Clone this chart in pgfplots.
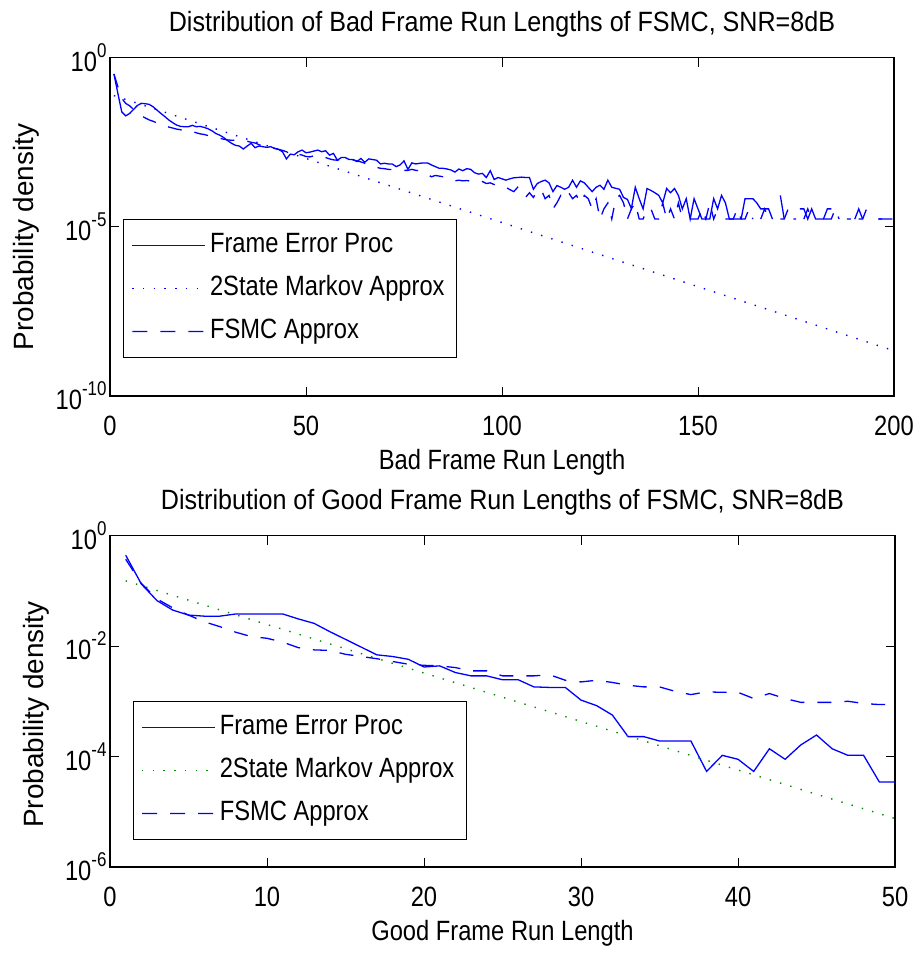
\documentclass[border=0pt]{standalone}
\usepackage{fontspec}
\setmainfont{Liberation Sans}[FakeStretch=0.85]
\newfontfamily\titlefont{Liberation Sans}[FakeStretch=0.9]
\newfontfamily\ylabfont{Liberation Sans}[FakeStretch=1.0]
\usepackage{pgfplots}
\usepackage{pgfplotstable}
\pgfplotsset{compat=1.18}
\definecolor{mblue}{rgb}{0,0,1}
\definecolor{mgreen}{rgb}{0,0.55,0}
\newcommand{\fsz}{\fontsize{28}{32}\selectfont}
\newcommand{\tp}[1]{10\raisebox{0.5em}{\fontsize{20}{20}\selectfont #1}}

\pgfplotstableread{
x fe fm
1 0.331 0.331
2 0.0891 0.141
3 0.0251 0.0631
4 0.0191 0.0447
5 0.0224 0.0380
6 0.0295 0.0295
7 0.0389 0.0234
8 0.0447 0.0191
9 0.0437 0.0166
10 0.0417 0.01445
11 0.0355 0.0132
12 0.0282 0.01175
13 0.0224 0.0107
14 0.0182 9.77e-3
15 0.01445 8.91e-3
16 0.0120 8.32e-3
17 0.0102 7.76e-3
18 9.33e-3 7.41e-3
19 9.12e-3 7.08e-3
20 9.12e-3 6.92e-3
21 1.0e-2 6.61e-3
22 9.12e-3 6.03e-3
23 9.33e-3 5.62e-3
24 8.71e-3 5.37e-3
25 7.94e-3 5.01e-3
26 6.92e-3 4.79e-3
27 5.75e-3 4.47e-3
28 5.13e-3 4.17e-3
29 4.37e-3 3.89e-3
30 3.55e-3 3.72e-3
31 2.95e-3 3.63e-3
32 2.57e-3 3.63e-3
33 2.45e-3 3.72e-3
34 2.00e-3 3.63e-3
35 2.45e-3 3.39e-3
36 2.95e-3 3.16e-3
37 2.19e-3 3.02e-3
38 2.45e-3 2.69e-3
39 2.34e-3 2.40e-3
40 2.24e-3 2.24e-3
41 2.34e-3 2.19e-3
42 2.09e-3 2.09e-3
43 1.95e-3 1.95e-3
44 1.66e-3 1.82e-3
45 1.02e-3 1.66e-3
46 1.41e-3 1.58e-3
47 1.35e-3 1.51e-3
48 1.66e-3 1.41e-3
49 1.86e-3 1.32e-3
50 1.55e-3 1.20e-3
51 1.62e-3 1.17e-3
52 1.74e-3 1.26e-3
53 1.86e-3 1.32e-3
54 1.66e-3 1.23e-3
55 1.78e-3 1.12e-3
56 1.32e-3 1.02e-3
57 1.48e-3 9.55e-4
58 9.33e-4 9.33e-4
59 1.12e-3 1.00e-3
60 1.12e-3 1.05e-3
61 9.77e-4 1.00e-3
62 9.77e-4 9.55e-4
63 8.51e-4 8.91e-4
64 1.05e-3 8.32e-4
65 8.13e-4 7.59e-4
66 1.02e-3 6.61e-4
67 9.77e-4 5.89e-4
68 9.33e-4 5.75e-4
69 7.24e-4 5.37e-4
70 7.59e-4 5.25e-4
71 7.24e-4 5.01e-4
72 7.24e-4 4.90e-4
73 6.03e-4 4.79e-4
74 6.76e-4 4.79e-4
75 8.91e-4 4.68e-4
76 5.01e-4 4.68e-4
77 7.76e-4 5.01e-4
78 7.24e-4 4.68e-4
79 7.59e-4 4.57e-4
80 7.76e-4 4.17e-4
81 7.76e-4 3.55e-4
82 6.76e-4 3.02e-4
83 6.03e-4 3.31e-4
84 5.37e-4 3.16e-4
85 5.37e-4 3.02e-4
86 5.13e-4 2.82e-4
87 4.79e-4 2.51e-4
88 4.17e-4 2.29e-4
89 5.13e-4 2.40e-4
90 4.57e-4 2.29e-4
91 5.25e-4 2.34e-4
92 5.01e-4 2.24e-4
93 3.98e-4 2.14e-4
94 3.63e-4 2.00e-4
95 3.80e-4 2.19e-4
96 2.88e-4 1.91e-4
97 4.57e-4 2.00e-4
98 2.51e-4 1.78e-4
99 2.88e-4 1.82e-4
100 2.63e-4 1.62e-4
101 2.40e-4 1.48e-4
102 2.63e-4 1.26e-4
103 2.82e-4 1.10e-4
104 2.88e-4 1.48e-4
105 2.95e-4 1.02e-4
106 2.88e-4 7.41e-5
107 2.88e-4 1.02e-4
108 1.29e-4 7.41e-5
109 1.91e-4 1.17e-4
110 2.19e-4 1.26e-4
111 2.40e-4 6.8e-5
112 2.00e-4 8.5e-5
113 1.10e-4 3.4e-5
114 1.66e-4 5.1e-5
115 1.48e-4 8.5e-5
116 1.29e-4 6.8e-5
117 1.48e-4 1.02e-4
118 2.40e-4 6.8e-5
119 1.48e-4 8.5e-5
120 2.29e-4 5.1e-5
121 2.00e-4 8.5e-5
122 1.48e-4 6.8e-5
123 1.10e-4 3.4e-5
124 1.48e-4 6.8e-5
125 1.70e-4 1.7e-5
126 1.29e-4 3.4e-5
127 2.40e-4 5.1e-5
128 1.48e-4 1.7e-5
129 1.38e-4 6.8e-5
130 1.29e-4 8.5e-5
131 7.41e-5 5.1e-5
132 6.46e-5 1.7e-5
133 3.47e-5 3.4e-5
134 1.48e-4 5.1e-5
135 6.8e-5 1.7e-5
136 3.4e-5 1.7e-5
137 1.36e-4 3.4e-5
138 1.19e-4 3.4e-5
139 1.02e-4 1.7e-5
140 8.5e-5 1.7e-5
141 5.1e-5 5.1e-5
142 1.36e-4 1.7e-5
143 1.02e-4 3.4e-5
144 1.36e-4 1.7e-5
145 8.5e-5 5.1e-5
146 3.4e-5 1.7e-5
147 6.8e-5 nan
148 1.7e-5 1.7e-5
149 6.8e-5 1.7e-5
150 3.4e-5 1.7e-5
151 1.7e-5 3.4e-5
152 1.7e-5 1.7e-5
153 1.7e-5 5.1e-5
154 6.8e-5 1.7e-5
155 3.4e-5 3.4e-5
156 8.5e-5 nan
157 5.1e-5 1.7e-5
158 1.7e-5 1.7e-5
159 1.7e-5 1.7e-5
160 1.7e-5 3.4e-5
161 1.7e-5 1.7e-5
162 6.8e-5 1.7e-5
163 6.8e-5 3.4e-5
164 6.8e-5 1.7e-5
165 5.1e-5 nan
166 3.4e-5 1.7e-5
167 3.4e-5 3.4e-5
168 3.4e-5 1.7e-5
169 1.7e-5 1.7e-5
170 nan nan
171 8.5e-5 1.7e-5
172 1.7e-5 1.7e-5
173 nan 3.4e-5
174 nan 1.7e-5
175 nan 1.7e-5
176 3.4e-5 nan
177 3.4e-5 1.7e-5
178 1.7e-5 3.4e-5
179 3.4e-5 1.7e-5
180 1.7e-5 1.7e-5
181 1.7e-5 nan
182 1.7e-5 1.7e-5
183 3.4e-5 1.7e-5
184 3.4e-5 1.7e-5
185 nan 3.4e-5
186 nan 1.7e-5
187 nan nan
188 nan 1.7e-5
189 nan 1.7e-5
190 1.7e-5 nan
191 3.4e-5 1.7e-5
192 1.7e-5 1.7e-5
193 nan 3.4e-5
194 nan 1.7e-5
195 nan nan
196 1.7e-5 1.7e-5
197 1.7e-5 1.7e-5
198 nan 1.7e-5
199 nan 1.7e-5
200 1.7e-5 1.7e-5
}\badtab

\pgfplotstableread{
x mk
1 7.59e-2
10 3.46e-2
20 1.445e-2
30 6.04e-3
40 2.523e-3
50 1.054e-3
60 4.406e-4
70 1.841e-4
80 7.69e-5
90 3.214e-5
100 1.343e-5
110 5.61e-6
120 2.344e-6
130 9.79e-7
140 4.093e-7
150 1.710e-7
160 7.14e-8
170 2.985e-8
180 1.247e-8
190 5.21e-9
200 2.178e-9
}\badmk

\pgfplotstableread{
x fe fm
1 0.44 0.372
2 0.132 0.135
3 0.0661 0.0708
4 0.0447 0.049
5 0.0363 0.0363
6 0.0347 0.0275
7 0.0347 0.0224
8 0.0380 0.0178
9 0.0380 0.0148
10 0.0380 0.0138
11 0.0380 0.01175
12 0.0309 9.33e-3
13 0.0257 8.51e-3
14 0.0182 8.32e-3
15 0.0132 7.08e-3
16 9.55e-3 6.46e-3
17 6.92e-3 5.89e-3
18 6.46e-3 5.25e-3
19 5.75e-3 4.68e-3
20 4.17e-3 4.47e-3
21 4.37e-3 4.37e-3
22 3.31e-3 4.07e-3
23 2.88e-3 3.55e-3
24 2.88e-3 3.55e-3
25 2.45e-3 2.88e-3
26 2.45e-3 2.88e-3
27 1.82e-3 2.88e-3
28 1.78e-3 3.02e-3
29 1.78e-3 2.40e-3
30 1.05e-3 2.24e-3
31 8.32e-4 2.40e-3
32 5.62e-4 2.19e-3
33 2.29e-4 1.95e-3
34 2.29e-4 1.82e-3
35 1.91e-4 1.82e-3
36 1.91e-4 1.51e-3
37 1.91e-4 1.32e-3
38 5.37e-5 1.48e-3
39 1.05e-4 1.45e-3
40 8.91e-5 1.45e-3
41 5.37e-5 1.12e-3
42 1.38e-4 1.38e-3
43 8.91e-5 1.12e-3
44 1.62e-4 9.55e-4
45 2.45e-4 9.55e-4
46 1.38e-4 9.55e-4
47 1.05e-4 1.00e-3
48 1.05e-4 9.12e-4
49 3.47e-5 8.71e-4
50 3.47e-5 8.71e-4
}\goodtab

\pgfplotstableread{
x mk
1 1.514e-1
5 6.745e-2
10 2.455e-2
15 8.93e-3
20 3.25e-3
25 1.183e-3
30 4.31e-4
35 1.567e-4
40 5.70e-5
45 2.075e-5
50 7.55e-6
}\goodmk

\pgfplotsset{
  scale only axis,
  axis line style={line width=1.2bp},
  tick style={line width=1bp, black},
  major tick length=9bp,
  tick align=inside,
  xtick pos=both, ytick pos=both,
  yminorticks=false, xminorticks=false,
  tick label style={font=\fsz},
  /pgf/number format/assume math mode=true,
  unbounded coords=jump,
  legend cell align=left,
  legend style={line width=1.2bp, fill=white, font=\fsz,
    inner xsep=8bp, inner ysep=13bp, row sep=17bp,
    nodes={inner xsep=4bp, inner ysep=0bp, text height=20bp, text depth=6bp}},
  legend image code/.code={\draw[#1] (0bp,0bp) -- (73bp,0bp);},
  every axis title/.style={at={(0.5,1)}, anchor=base, yshift=26bp, font=\fontsize{28}{32}\titlefont},
  every axis x label/.style={at={(0.5,0)}, anchor=base, yshift=-73bp, font=\fsz},
  xticklabel style={anchor=base, yshift=-39bp},
  solidimg/.style={legend image code/.code={\fill[fill=mblue, draw=none] (0bp,-0.65bp) rectangle (73bp,0.65bp);}},
  dashimg/.style={legend image code/.code={\fill[fill=mblue, draw=none] (0bp,-0.65bp) rectangle (15bp,0.65bp) (28bp,-0.65bp) rectangle (43bp,0.65bp) (56bp,-0.65bp) rectangle (71bp,0.65bp);}},
}

\begin{document}
\begin{tikzpicture}
\path[use as bounding box] (0bp,0bp) rectangle (920bp,-954bp);
\begin{axis}[ymode=log,
  at={(110bp,-57.7bp)}, anchor=north west,
  width=784bp, height=338.3bp,
  xmin=0, xmax=200, ymin=1e-10, ymax=1,
  xtick={0,50,100,150,200},
  ytick={1e-10,1e-5,1}, yticklabels={\tp{-10},\tp{-5},\tp{0}},
  title={Distribution of Bad Frame Run Lengths of FSMC, SNR=8dB},
  xlabel={Bad Frame Run Length},
  ylabel={Probability density},
  every axis y label/.style={at={(-0.1071,0.47)}, rotate=90, anchor=center, font=\fontsize{28}{32}\ylabfont},
  legend style={at={(0.0166,0.112)}, anchor=south west},
]
\addplot[forget plot, color=mblue, line width=1.3bp] table[x=x, y=fe] {\badtab};
\addplot[forget plot, color=mblue, line width=1.4bp, dash pattern=on 1.4bp off 9.3bp] table[x=x, y=mk] {\badmk};
\addplot[forget plot, color=mblue, line width=1.3bp, dash pattern=on 14bp off 13bp] table[x=x, y=fm] {\badtab};
\addlegendimage{solidimg}
\addlegendimage{color=mblue, line width=1.4bp, dash pattern=on 1.4bp off 9.3bp}
\addlegendimage{dashimg}
\legend{Frame Error Proc, 2State Markov Approx, FSMC Approx}
\end{axis}

\begin{axis}[ymode=log,
  at={(110bp,-535.5bp)}, anchor=north west,
  width=785bp, height=331.5bp,
  xmin=0, xmax=50, ymin=1e-6, ymax=1,
  xtick={0,10,20,30,40,50},
  ytick={1e-6,1e-4,1e-2,1}, yticklabels={\tp{-6},\tp{-4},\tp{-2},\tp{0}},
  title={Distribution of Good Frame Run Lengths of FSMC, SNR=8dB},
  xlabel={Good Frame Run Length},
  ylabel={Probability density},
  every axis y label/.style={at={(-0.0943,0.46)}, rotate=90, anchor=center, font=\fontsize{28}{32}\ylabfont},
  legend style={at={(0.029,0.081)}, anchor=south west},
]
\addplot[forget plot, color=mblue, line width=1.3bp] table[x=x, y=fe] {\goodtab};
\addplot[forget plot, color=mgreen, line width=1.4bp, dash pattern=on 1.4bp off 9.3bp] table[x=x, y=mk] {\goodmk};
\addplot[forget plot, color=mblue, line width=1.3bp, dash pattern=on 14bp off 13bp] table[x=x, y=fm] {\goodtab};
\addlegendimage{solidimg}
\addlegendimage{color=mgreen, line width=1.4bp, dash pattern=on 1.4bp off 9.3bp}
\addlegendimage{dashimg}
\legend{Frame Error Proc, 2State Markov Approx, FSMC Approx}
\end{axis}
\end{tikzpicture}
\end{document}
